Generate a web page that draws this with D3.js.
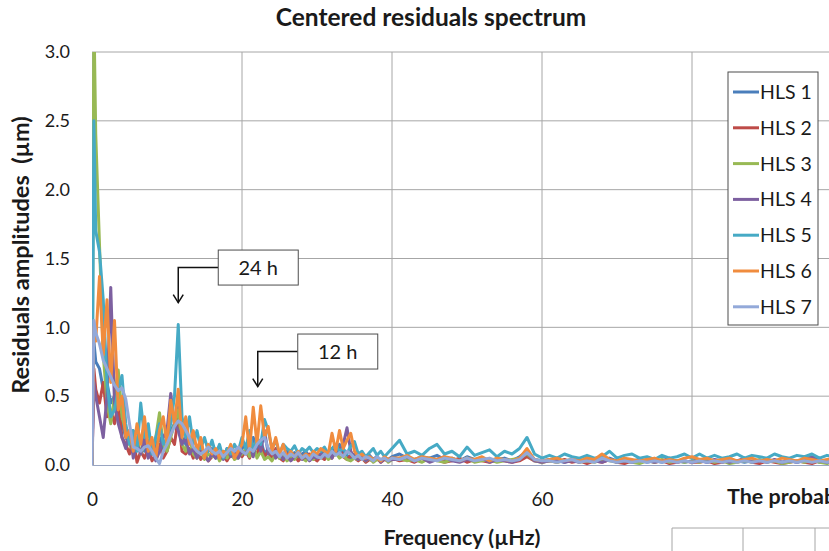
<!DOCTYPE html>
<html>
<head>
<meta charset="utf-8">
<script src="https://cdn.jsdelivr.net/npm/d3@7"></script>
<style>
  body { margin: 0; background: #fff; }
  svg { display: block; }
  text { font-family: Lato, "Open Sans", sans-serif; fill: #1a1a1a; white-space: pre; }
</style>
</head>
<body>
<svg id="chart" width="829" height="551"></svg>
<script>
// frequencies in µHz (0.5 step up to 40, then 1 step)
const freqs = [
  0, 0.25, 0.5,
  1, 1.5, 2, 2.5, 3, 3.5, 4, 4.5, 5, 5.5, 6, 6.5, 7, 7.5, 8, 8.5, 9, 9.5, 10,
  10.5, 11, 11.5, 12, 12.5, 13, 13.5, 14, 14.5, 15, 15.5, 16, 16.5, 17, 17.5, 18, 18.5, 19, 19.5, 20,
  20.5, 21, 21.5, 22, 22.5, 23, 23.5, 24, 24.5, 25, 25.5, 26, 26.5, 27, 27.5, 28, 28.5, 29, 29.5, 30,
  30.5, 31, 31.5, 32, 32.5, 33, 33.5, 34, 34.5, 35, 35.5, 36, 36.5, 37, 37.5, 38, 38.5, 39, 39.5, 40,
  41, 42, 43, 44, 45, 46, 47, 48, 49, 50, 51, 52, 53, 54, 55, 56, 57, 58, 59, 60,
  61, 62, 63, 64, 65, 66, 67, 68, 69, 70, 71, 72, 73, 74, 75, 76, 77, 78, 79, 80,
  81, 82, 83, 84, 85, 86, 87, 88, 89, 90, 91, 92, 93, 94, 95, 96, 97, 98, 99
];

const hls1 = [
  0, 0.9, 0.75,
  0.7, 0.55, 0.6, 0.45, 0.5, 0.35, 0.3, 0.2, 0.15, 0.25, 0.12, 0.2, 0.1, 0.18, 0.08, 0.15, 0.2, 0.1, 0.15,
  0.25, 0.3, 0.45, 0.2, 0.15, 0.1, 0.12, 0.08, 0.15, 0.06, 0.1, 0.12, 0.05, 0.08, 0.1, 0.06, 0.12, 0.08, 0.05, 0.12,
  0.15, 0.1, 0.2, 0.12, 0.18, 0.08, 0.12, 0.06, 0.1, 0.05, 0.08, 0.1, 0.06, 0.09, 0.05, 0.08, 0.1, 0.06, 0.08, 0.05,
  0.08, 0.1, 0.06, 0.12, 0.08, 0.15, 0.1, 0.07, 0.05, 0.08, 0.04, 0.06, 0.05, 0.07, 0.04, 0.06, 0.03, 0.05, 0.04, 0.06,
  0.08, 0.05, 0.04, 0.06, 0.05, 0.07, 0.04, 0.05, 0.03, 0.06, 0.04, 0.05, 0.03, 0.04, 0.05, 0.03, 0.06, 0.1, 0.04, 0.03,
  0.04, 0.03, 0.02, 0.04, 0.03, 0.02, 0.03, 0.04, 0.05, 0.03, 0.02, 0.03, 0.04, 0.02, 0.03, 0.02, 0.04, 0.03, 0.02, 0.03,
  0.04, 0.02, 0.03, 0.02, 0.04, 0.03, 0.02, 0.03, 0.02, 0.04, 0.03, 0.02, 0.03, 0.02, 0.03, 0.04, 0.02, 0.03, 0.02
];
const hls2 = [
  0, 0.7, 0.55,
  0.45, 0.6, 0.35, 0.4, 0.3, 0.45, 0.2, 0.15, 0.08, 0.2, 0.02, 0.1, 0.05, 0.12, 0.03, 0.08, 0.15, 0.05, 0.1,
  0.2, 0.15, 0.35, 0.1, 0.08, 0.12, 0.05, 0.1, 0.04, 0.08, 0.03, 0.06, 0.09, 0.04, 0.07, 0.03, 0.08, 0.05, 0.1, 0.06,
  0.1, 0.05, 0.12, 0.08, 0.15, 0.06, 0.1, 0.04, 0.12, 0.05, 0.03, 0.08, 0.05, 0.07, 0.03, 0.06, 0.04, 0.08, 0.05, 0.03,
  0.06, 0.04, 0.08, 0.05, 0.1, 0.12, 0.06, 0.04, 0.07, 0.05, 0.03, 0.05, 0.02, 0.04, 0.03, 0.05, 0.02, 0.04, 0.03, 0.05,
  0.03, 0.04, 0.02, 0.05, 0.03, 0.04, 0.02, 0.03, 0.05, 0.02, 0.04, 0.03, 0.02, 0.04, 0.03, 0.02, 0.03, 0.06, 0.03, 0.02,
  0.03, 0.02, 0.04, 0.02, 0.03, 0.01, 0.03, 0.02, 0.04, 0.02, 0.01, 0.03, 0.02, 0.04, 0.02, 0.03, 0.01, 0.02, 0.03, 0.02,
  0.02, 0.03, 0.01, 0.02, 0.03, 0.02, 0.04, 0.02, 0.01, 0.03, 0.02, 0.01, 0.02, 0.03, 0.02, 0.01, 0.03, 0.02, 0.02
];
const hls3 = [
  0, 3.3, 2.4,
  1.6, 0.8, 0.45, 0.3, 0.5, 0.69, 0.35, 0.25, 0.15, 0.1, 0.2, 0.08, 0.15, 0.25, 0.1, 0.2, 0.38, 0.15, 0.1,
  0.2, 0.3, 0.4, 0.15, 0.1, 0.2, 0.08, 0.05, 0.12, 0.04, 0.08, 0.06, 0.1, 0.03, 0.07, 0.05, 0.09, 0.04, 0.06, 0.08,
  0.12, 0.06, 0.15, 0.05, 0.1, 0.04, 0.06, 0.03, 0.08, 0.05, 0.07, 0.03, 0.06, 0.04, 0.08, 0.05, 0.03, 0.06, 0.04, 0.07,
  0.05, 0.08, 0.04, 0.06, 0.09, 0.05, 0.07, 0.04, 0.03, 0.05, 0.04, 0.06, 0.03, 0.05, 0.02, 0.04, 0.03, 0.05, 0.02, 0.04,
  0.05, 0.03, 0.04, 0.02, 0.05, 0.03, 0.02, 0.04, 0.03, 0.05, 0.02, 0.03, 0.04, 0.02, 0.03, 0.04, 0.05, 0.08, 0.03, 0.02,
  0.03, 0.02, 0.03, 0.04, 0.02, 0.03, 0.02, 0.04, 0.03, 0.02, 0.03, 0.02, 0.01, 0.03, 0.02, 0.04, 0.02, 0.03, 0.02, 0.03,
  0.02, 0.04, 0.02, 0.03, 0.01, 0.02, 0.03, 0.02, 0.04, 0.02, 0.03, 0.01, 0.02, 0.03, 0.02, 0.04, 0.02, 0.01, 0.03
];
const hls4 = [
  0, 0.6, 0.5,
  0.35, 0.2, 0.5, 1.29, 0.45, 0.3, 0.2, 0.12, 0.25, 0.05, 0.15, 0.08, 0.2, 0.05, 0.12, 0.03, 0.1, 0.2, 0.25,
  0.52, 0.3, 0.25, 0.15, 0.2, 0.08, 0.12, 0.05, 0.1, 0.07, 0.03, 0.08, 0.05, 0.1, 0.04, 0.12, 0.06, 0.09, 0.05, 0.1,
  0.08, 0.15, 0.06, 0.2, 0.1, 0.25, 0.08, 0.12, 0.05, 0.09, 0.04, 0.07, 0.03, 0.06, 0.08, 0.04, 0.07, 0.03, 0.06, 0.05,
  0.08, 0.06, 0.1, 0.05, 0.12, 0.08, 0.15, 0.27, 0.1, 0.06, 0.04, 0.07, 0.03, 0.05, 0.04, 0.06, 0.02, 0.05, 0.03, 0.04,
  0.04, 0.06, 0.03, 0.05, 0.02, 0.04, 0.06, 0.03, 0.02, 0.04, 0.03, 0.05, 0.02, 0.04, 0.03, 0.02, 0.04, 0.09, 0.03, 0.02,
  0.03, 0.04, 0.02, 0.03, 0.02, 0.05, 0.03, 0.02, 0.04, 0.02, 0.03, 0.02, 0.04, 0.03, 0.02, 0.03, 0.05, 0.02, 0.03, 0.02,
  0.03, 0.02, 0.04, 0.03, 0.02, 0.03, 0.05, 0.02, 0.03, 0.02, 0.04, 0.02, 0.03, 0.02, 0.04, 0.06, 0.03, 0.02, 0.03
];
const hls5 = [
  0, 2.5, 1.7,
  1.55, 1.2, 0.6, 0.35, 0.4, 0.55, 0.65, 0.3, 0.15, 0.25, 0.1, 0.45, 0.2, 0.3, 0.08, 0.2, 0.3, 0.15, 0.2,
  0.3, 0.5, 1.02, 0.35, 0.2, 0.35, 0.15, 0.25, 0.12, 0.2, 0.1, 0.18, 0.08, 0.15, 0.05, 0.12, 0.08, 0.15, 0.1, 0.2,
  0.12, 0.25, 0.1, 0.2, 0.15, 0.33, 0.25, 0.12, 0.18, 0.08, 0.15, 0.12, 0.1, 0.14, 0.08, 0.12, 0.1, 0.13, 0.09, 0.12,
  0.1, 0.13, 0.08, 0.12, 0.15, 0.1, 0.12, 0.08, 0.14, 0.17, 0.08, 0.1, 0.06, 0.09, 0.12, 0.07, 0.1, 0.06, 0.09, 0.12,
  0.18, 0.08, 0.1, 0.07, 0.12, 0.15, 0.08, 0.1, 0.06, 0.13, 0.07, 0.09, 0.11, 0.06, 0.1, 0.08, 0.12, 0.2, 0.08, 0.05,
  0.07, 0.05, 0.08, 0.06, 0.05, 0.07, 0.05, 0.06, 0.1, 0.05, 0.07, 0.08, 0.05, 0.06, 0.04, 0.07, 0.05, 0.06, 0.08, 0.05,
  0.08, 0.05, 0.07, 0.05, 0.06, 0.08, 0.05, 0.07, 0.06, 0.05, 0.08, 0.06, 0.05, 0.07, 0.06, 0.08, 0.05, 0.07, 0.06
];
const hls6 = [
  0, 1.0, 0.9,
  1.37, 0.8, 1.2, 0.6, 1.05, 0.4, 0.5, 0.2, 0.25, 0.1, 0.3, 0.15, 0.35, 0.1, 0.2, 0.05, 0.25, 0.35, 0.15,
  0.47, 0.3, 0.55, 0.2, 0.35, 0.15, 0.25, 0.1, 0.2, 0.05, 0.15, 0.08, 0.12, 0.05, 0.1, 0.08, 0.15, 0.05, 0.1, 0.15,
  0.35, 0.1, 0.42, 0.15, 0.43, 0.2, 0.28, 0.1, 0.2, 0.08, 0.15, 0.05, 0.1, 0.06, 0.1, 0.05, 0.08, 0.06, 0.1, 0.08,
  0.12, 0.1, 0.08, 0.23, 0.1, 0.25, 0.12, 0.18, 0.23, 0.1, 0.06, 0.08, 0.05, 0.06, 0.04, 0.05, 0.03, 0.06, 0.04, 0.05,
  0.05, 0.07, 0.04, 0.06, 0.05, 0.04, 0.06, 0.05, 0.03, 0.05, 0.04, 0.06, 0.03, 0.05, 0.04, 0.03, 0.05, 0.12, 0.04, 0.03,
  0.04, 0.05, 0.03, 0.04, 0.03, 0.05, 0.04, 0.08, 0.04, 0.03, 0.05, 0.04, 0.03, 0.04, 0.05, 0.03, 0.04, 0.03, 0.05, 0.06,
  0.04, 0.05, 0.03, 0.04, 0.05, 0.03, 0.04, 0.05, 0.03, 0.04, 0.03, 0.05, 0.04, 0.03, 0.05, 0.04, 0.03, 0.04, 0.05
];
const hls7 = [
  0, 1.05, 0.96,
  0.88, 0.76, 0.7, 0.64, 0.58, 0.54, 0.56, 0.48, 0.3, 0.13, 0.12, 0.1, 0.13, 0.14, 0.1, 0.05, 0.01, 0.1, 0.15,
  0.22, 0.28, 0.32, 0.3, 0.25, 0.2, 0.13, 0.1, 0.08, 0.1, 0.13, 0.1, 0.08, 0.1, 0.06, 0.09, 0.12, 0.1, 0.13, 0.1,
  0.08, 0.12, 0.1, 0.15, 0.18, 0.2, 0.12, 0.08, 0.1, 0.06, 0.09, 0.05, 0.08, 0.06, 0.09, 0.05, 0.07, 0.04, 0.08, 0.06,
  0.05, 0.08, 0.06, 0.1, 0.07, 0.09, 0.06, 0.1, 0.08, 0.05, 0.07, 0.04, 0.06, 0.05, 0.03, 0.06, 0.04, 0.05, 0.03, 0.05,
  0.04, 0.06, 0.03, 0.05, 0.04, 0.03, 0.05, 0.04, 0.03, 0.05, 0.03, 0.04, 0.05, 0.03, 0.04, 0.03, 0.04, 0.09, 0.04, 0.03,
  0.03, 0.02, 0.03, 0.04, 0.02, 0.03, 0.02, 0.05, 0.03, 0.02, 0.03, 0.02, 0.03, 0.02, 0.03, 0.02, 0.03, 0.02, 0.03, 0.02,
  0.03, 0.02, 0.03, 0.02, 0.03, 0.02, 0.03, 0.02, 0.03, 0.02, 0.03, 0.02, 0.03, 0.02, 0.03, 0.02, 0.03, 0.02, 0.03
];

const seriesNames = ['HLS 1', 'HLS 2', 'HLS 3', 'HLS 4', 'HLS 5', 'HLS 6', 'HLS 7'];
const seriesValues = [hls1, hls2, hls3, hls4, hls5, hls6, hls7];
const seriesColors = ['#4a7ebb', '#be4b48', '#98b954', '#7d60a0', '#46aac5', '#f08c3e', '#93a9d9'];

const yTicks = [0, 0.5, 1, 1.5, 2, 2.5, 3];
const xTicks = [0, 20, 40, 60, 80, 100];

// period markers: label, frequency of arrow tip, amplitude of arrow tip
const notes = [
  { label: '24 h', freq: 11.5, amp: 1.18 },
  { label: '12 h', freq: 22.1, amp: 0.57 }
];

seriesValues.forEach((s, i) => {
  if (s.length !== freqs.length) throw new Error(seriesNames[i] + ' has ' + s.length + ' values, expected ' + freqs.length);
});

const svg = d3.select('#chart');
const margin = { left: 92, top: 52 };
const plotH = 413;
const plotW = 750;

const x = d3.scaleLinear().domain([0, 100]).range([margin.left, margin.left + plotW]);
const y = d3.scaleLinear().domain([0, 3]).range([margin.top + plotH, margin.top]);

// title
svg.append('text')
  .attr('x', 431).attr('y', 26)
  .attr('text-anchor', 'middle')
  .style('font-weight', 'bold').style('font-size', '24.5px')
  .text('Centered residuals spectrum');

// grid
svg.append('g').selectAll('line.h')
  .data(yTicks.filter(d => d > 0))
  .enter().append('line')
  .attr('x1', x(0)).attr('x2', x(100))
  .attr('y1', d => y(d)).attr('y2', d => y(d))
  .attr('stroke', '#a6a6a6').attr('stroke-width', 1);

svg.append('g').selectAll('line.v')
  .data(xTicks.filter(d => d > 0))
  .enter().append('line')
  .attr('x1', d => x(d)).attr('x2', d => x(d))
  .attr('y1', y(0)).attr('y2', y(3))
  .attr('stroke', '#a6a6a6').attr('stroke-width', 1);

// axes
const yAxis = svg.append('g')
  .attr('transform', 'translate(' + margin.left + ',0)')
  .call(d3.axisLeft(y).tickValues(yTicks).tickFormat(d3.format('.1f')).tickSize(0).tickPadding(22));
yAxis.select('.domain').attr('stroke', '#9aa6c2');
yAxis.selectAll('text').style('font-size', '18px').style('fill', '#1a1a1a').style('font-family', 'Lato, sans-serif');

const xAxis = svg.append('g')
  .attr('transform', 'translate(0,' + y(0) + ')')
  .call(d3.axisBottom(x).tickValues(xTicks).tickSize(0).tickPadding(28));
xAxis.select('.domain').attr('stroke', '#9aa6c2');
xAxis.selectAll('text').style('font-size', '19px').style('fill', '#1a1a1a').style('font-family', 'Lato, sans-serif');

// axis titles
svg.append('text')
  .attr('transform', 'translate(29,255) rotate(-90)')
  .attr('text-anchor', 'middle')
  .style('font-weight', 'bold').style('font-size', '23.5px')
  .text('Residuals amplitudes  (µm)');

svg.append('text')
  .attr('x', 462).attr('y', 545)
  .attr('text-anchor', 'middle')
  .style('font-weight', 'bold').style('font-size', '21.5px')
  .text('Frequency (µHz)');

// series
svg.append('clipPath').attr('id', 'plotClip')
  .append('rect')
  .attr('x', x(0)).attr('y', y(3))
  .attr('width', plotW).attr('height', plotH + 2);

const line = d3.line()
  .x((d, i) => x(freqs[i]))
  .y(d => y(d));

svg.append('g').attr('clip-path', 'url(#plotClip)')
  .selectAll('path')
  .data(seriesValues)
  .enter().append('path')
  .attr('d', line)
  .attr('fill', 'none')
  .attr('stroke', (d, i) => seriesColors[i])
  .attr('stroke-width', 3)
  .attr('stroke-linejoin', 'round');

// legend
const legend = svg.append('g').attr('transform', 'translate(728,72)');
legend.append('rect')
  .attr('width', 90).attr('height', 253)
  .attr('fill', '#fff').attr('stroke', '#4d4d4d').attr('stroke-width', 1);

const items = legend.selectAll('g.item')
  .data(seriesNames)
  .enter().append('g')
  .attr('transform', (d, i) => 'translate(0,' + (20 + i * 35.8) + ')');
items.append('line')
  .attr('x1', 5).attr('x2', 31)
  .attr('stroke', (d, i) => seriesColors[i])
  .attr('stroke-width', 3);
items.append('text')
  .attr('x', 32).attr('y', 7)
  .style('font-size', '19.5px')
  .text(d => d);

// period callouts
notes.forEach(n => {
  const tx = x(n.freq);
  const ty = y(n.amp);
  const elbowY = ty - 35;
  const g = svg.append('g');
  g.append('path')
    .attr('d', 'M' + (tx + 40) + ',' + elbowY + 'H' + tx + 'V' + ty)
    .attr('fill', 'none').attr('stroke', '#111').attr('stroke-width', 1.5);
  g.append('path')
    .attr('d', 'M' + (tx - 5) + ',' + (ty - 8) + 'L' + tx + ',' + ty + 'L' + (tx + 5) + ',' + (ty - 8))
    .attr('fill', 'none').attr('stroke', '#111').attr('stroke-width', 1.5);
  g.append('rect')
    .attr('x', tx + 40).attr('y', elbowY - 17.5)
    .attr('width', 80).attr('height', 35)
    .attr('fill', '#fff').attr('stroke', '#4d4d4d').attr('stroke-width', 1);
  g.append('text')
    .attr('x', tx + 80).attr('y', elbowY + 7)
    .attr('text-anchor', 'middle')
    .style('font-size', '20px')
    .text(n.label);
});

// the next figure on the page overlaps the bottom right corner
const next = svg.append('g');
next.append('rect')
  .attr('x', 655).attr('y', 472).attr('width', 180).attr('height', 90)
  .attr('fill', '#fff');
next.append('text')
  .attr('x', 727).attr('y', 504)
  .style('font-weight', 'bold').style('font-size', '21.5px')
  .text('The probability');
next.append('path')
  .attr('d', 'M672,551V528H835M743,528V551M815,528V551')
  .attr('fill', 'none').attr('stroke', '#a6a6a6').attr('stroke-width', 1);
</script>
</body>
</html>
